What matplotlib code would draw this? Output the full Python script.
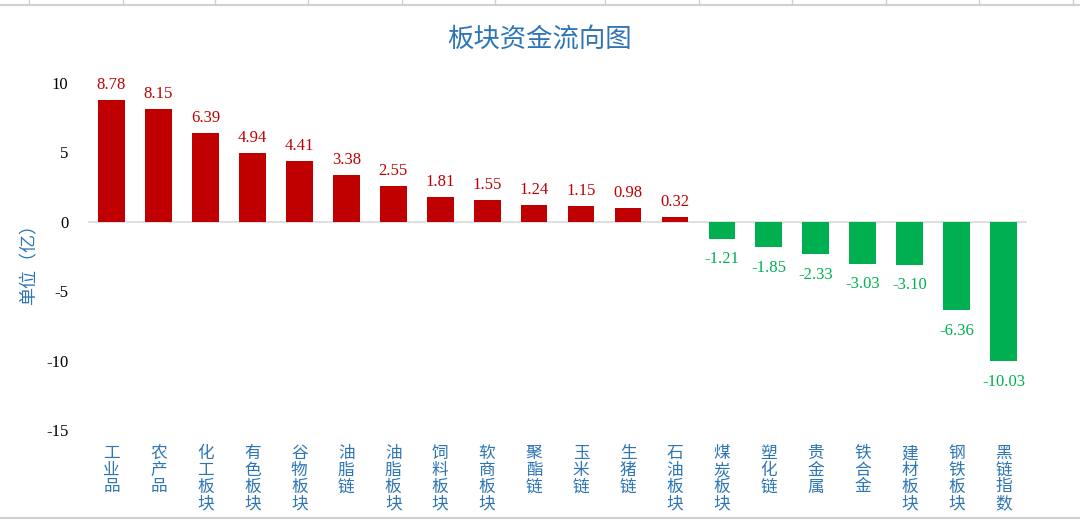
import matplotlib.pyplot as plt
from matplotlib.lines import Line2D

plt.rcParams['font.family'] = ['Liberation Serif', 'Noto Sans CJK SC', 'DejaVu Sans']

categories = ['工业品', '农产品', '化工板块', '有色板块', '谷物板块', '油脂链', '油脂板块',
              '饲料板块', '软商板块', '聚酯链', '玉米链', '生猪链', '石油板块', '煤炭板块',
              '塑化链', '贵金属', '铁合金', '建材板块', '钢铁板块', '黑链指数']
values = [8.78, 8.15, 6.39, 4.94, 4.41, 3.38, 2.55, 1.81, 1.55, 1.24, 1.15, 0.98, 0.32,
          -1.21, -1.85, -2.33, -3.03, -3.10, -6.36, -10.03]
yticks = [10, 5, 0, -5, -10, -15]

red = '#C00000'
green = '#00B050'
blue = '#2E75B6'

fig = plt.figure(figsize=(10.8, 5.21), dpi=100)
ax = fig.add_axes([0.0815, 0.1747, 0.8695, 0.666])

x = list(range(len(values)))
colors = [red if v >= 0 else green for v in values]
ax.bar(x, values, width=0.57, color=colors, zorder=2)

for i, v in enumerate(values):
    if v >= 0:
        ax.annotate('%.2f' % v, (i, v), xytext=(0, 5), textcoords='offset points',
                    ha='center', va='bottom', fontsize=12, color=red)
    else:
        ax.annotate('%.2f' % v, (i, v), xytext=(0, -9), textcoords='offset points',
                    ha='center', va='top', fontsize=12, color=green)

ax.axhline(0, color='#D9D9D9', lw=1.2, zorder=1)
ax.set_xlim(-0.5, len(values) - 0.5)
ax.set_ylim(-15, 10)
ax.set_yticks(yticks)
ax.set_yticklabels([str(t) for t in yticks], fontsize=12)
ax.tick_params(axis='y', length=0, pad=14)
ax.set_xticks(x)
ax.set_xticklabels(['\n'.join(c) for c in categories], fontsize=12, color=blue,
                   family=['Noto Sans CJK SC'], va='top', linespacing=0.97)
ax.tick_params(axis='x', length=0, pad=11)
for s in ax.spines.values():
    s.set_visible(False)

ax.set_ylabel('单位（亿）', fontsize=13, color=blue, family=['Noto Sans CJK SC'])
ax.yaxis.set_label_coords(-0.053, 0.49)

fig.text(0.5, 0.925, '板块资金流向图', ha='center', va='center', fontsize=19,
         color=blue, family=['Noto Sans CJK SC'])

# spreadsheet cell borders around the chart
fig.add_artist(Line2D([0, 1], [0.99, 0.99], color='#D0D0D0', lw=1.5))
fig.add_artist(Line2D([0, 1], [0.006, 0.006], color='#D0D0D0', lw=1.5))
for xp in [29, 123, 215, 308, 402, 495, 605, 699, 792, 886, 979, 1073]:
    fig.add_artist(Line2D([xp / 1080, xp / 1080], [0.99, 1], color='#D0D0D0', lw=1))

fig.savefig('out.png', dpi=100)
